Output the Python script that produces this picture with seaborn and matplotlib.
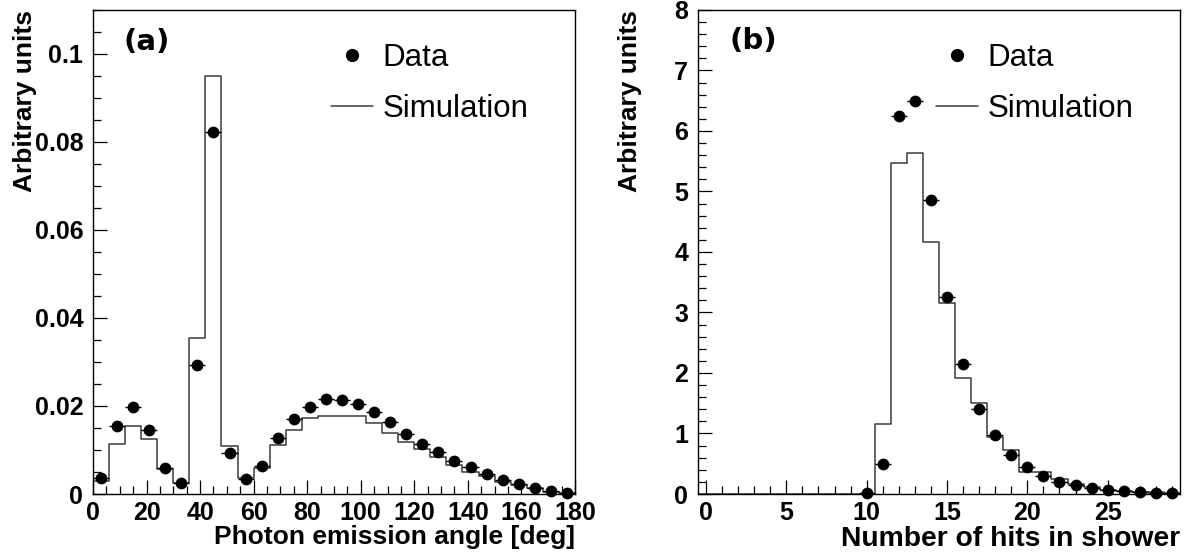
import matplotlib
matplotlib.use("Agg")
import matplotlib.pyplot as plt
import seaborn as sns
from matplotlib.lines import Line2D
from matplotlib.ticker import MultipleLocator, FuncFormatter

# (a) photon emission angle, 6 deg bins
angle_centres = [3, 9, 15, 21, 27, 33, 39, 45, 51, 57, 63, 69, 75, 81, 87,
                 93, 99, 105, 111, 117, 123, 129, 135, 141, 147, 153, 159, 165, 171, 177]
angle_data = [0.0037, 0.0155, 0.0197, 0.0146, 0.0058, 0.0024, 0.0293, 0.0823, 0.0094, 0.0033,
              0.0063, 0.0127, 0.0171, 0.0197, 0.0215, 0.0214, 0.0204, 0.0187, 0.0164, 0.0136,
              0.0114, 0.0096, 0.0076, 0.0061, 0.0045, 0.0032, 0.0022, 0.0014, 0.0007, 0.0002]
angle_sim = [0.0030, 0.0113, 0.0155, 0.0124, 0.0056, 0.0024, 0.0355, 0.0950, 0.0108, 0.0037,
             0.0058, 0.0111, 0.0145, 0.0172, 0.0178, 0.0177, 0.0177, 0.0162, 0.0138, 0.0119,
             0.0102, 0.0083, 0.0066, 0.0049, 0.0041, 0.0028, 0.0020, 0.0013, 0.0005, 0.0002]

# (b) number of hits in shower
hits = [0, 1, 2, 3, 4, 5, 6, 7, 8, 9, 10, 11, 12, 13, 14, 15, 16, 17, 18, 19,
        20, 21, 22, 23, 24, 25, 26, 27, 28, 29]
hits_sim = [0, 0, 0, 0, 0, 0, 0, 0, 0, 0, 0, 1.16, 5.47, 5.63, 4.17, 3.15, 1.92, 1.50, 0.94, 0.73,
            0.37, 0.36, 0.24, 0.16, 0.11, 0.07, 0.05, 0.04, 0.03, 0.02]
hits_data_x = [10, 11, 12, 13, 14, 15, 16, 17, 18, 19, 20, 21, 22, 23, 24, 25, 26, 27, 28, 29]
hits_data = [0.02, 0.49, 6.25, 6.5, 4.86, 3.25, 2.15, 1.40, 0.97, 0.645,
             0.45, 0.30, 0.20, 0.15, 0.094, 0.066, 0.044, 0.039, 0.022, 0.011]

sns.set_style("ticks")
plt.rcParams["font.family"] = ["Liberation Sans", "DejaVu Sans"]
for key in ("text.color", "axes.labelcolor", "xtick.color", "ytick.color", "axes.edgecolor"):
    plt.rcParams[key] = "black"

fig = plt.figure(figsize=(11.84, 5.57), dpi=100)
ax_a = fig.add_axes([0.0785, 0.1131, 0.4071, 0.869])
ax_b = fig.add_axes([0.5895, 0.1131, 0.4071, 0.869])

LINE = "#3a3a3a"


def draw_panel(ax, xc, sim, nbins, brange, xd, yd, xerr):
    sns.histplot(x=xc, weights=sim, bins=nbins, binrange=brange, element="step",
                 fill=False, color=LINE, linewidth=1.1, ax=ax)
    ax.errorbar(xd, yd, xerr=xerr, fmt="none", ecolor="black", elinewidth=1, capsize=0)
    sns.scatterplot(x=xd, y=yd, color="black", s=72, linewidth=0, clip_on=False,
                    zorder=3, ax=ax)
    ax.tick_params(which="both", direction="in", top=False, right=False,
                   width=0.9, color="black", labelsize=18)
    ax.tick_params(which="major", length=10, pad=7)
    ax.tick_params(which="minor", length=5.5)
    ax.tick_params(axis="x", which="major", pad=5)
    for s in ax.spines.values():
        s.set_linewidth(1.0)
        s.set_color("black")

    handles = [Line2D([], [], marker="o", ls="none", color="black", ms=8.5),
               Line2D([], [], color=LINE, lw=1.1)]
    ax.legend(handles, ["Data", "Simulation"], loc="upper left", bbox_to_anchor=(0.494, 0.932),
              frameon=False, prop={"family": "Liberation Sans", "size": 22.5},
              handlelength=1.35, handletextpad=0.3, labelspacing=0.66,
              borderpad=0, borderaxespad=0)


draw_panel(ax_a, angle_centres, angle_sim, 30, (0, 180), angle_centres, angle_data, 3)
ax_a.set_xlim(0, 180)
ax_a.set_ylim(0, 0.11)
ax_a.xaxis.set_major_locator(MultipleLocator(20))
ax_a.xaxis.set_minor_locator(MultipleLocator(5))
ax_a.yaxis.set_major_locator(MultipleLocator(0.02))
ax_a.yaxis.set_minor_locator(MultipleLocator(0.005))
ax_a.yaxis.set_major_formatter(FuncFormatter(lambda v, p: f"{v:g}"))
ax_a.set_xlabel("Photon emission angle [deg]", loc="right", fontsize=19, fontweight="bold")
ax_a.set_ylabel("Arbitrary units", loc="top", fontsize=19, fontweight="bold")
ax_a.xaxis.set_label_coords(1.0, -0.064)
ax_a.yaxis.set_label_coords(-0.117, 1.0)
ax_a.text(0.064, 0.934, "(a)", transform=ax_a.transAxes, ha="left", va="center",
          fontsize=21, fontweight="bold", family="DejaVu Sans")

draw_panel(ax_b, hits, hits_sim, 30, (-0.5, 29.5), hits_data_x, hits_data, 0.5)
ax_b.set_xlim(-0.5, 29.5)
ax_b.set_ylim(0, 8)
ax_b.xaxis.set_major_locator(MultipleLocator(5))
ax_b.xaxis.set_minor_locator(MultipleLocator(1))
ax_b.yaxis.set_major_locator(MultipleLocator(1))
ax_b.yaxis.set_minor_locator(MultipleLocator(0.2))
ax_b.set_xlabel("Number of hits in shower", loc="right", fontsize=20.3, fontweight="bold")
ax_b.set_ylabel("Arbitrary units", loc="top", fontsize=19, fontweight="bold")
ax_b.xaxis.set_label_coords(1.0, -0.066)
ax_b.yaxis.set_label_coords(-0.117, 1.0)
ax_b.text(0.066, 0.936, "(b)", transform=ax_b.transAxes, ha="left", va="center",
          fontsize=21, fontweight="bold", family="DejaVu Sans")

for ax in (ax_a, ax_b):
    for lab in ax.get_xticklabels() + ax.get_yticklabels():
        lab.set_fontweight("bold")

fig.savefig("out.png", dpi=100)
